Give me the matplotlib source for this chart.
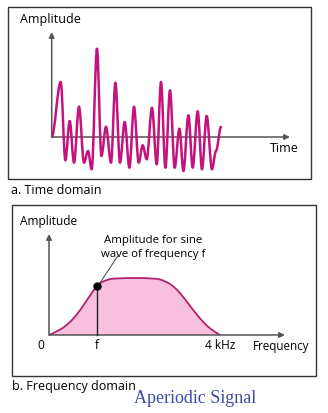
import matplotlib.pyplot as plt
from matplotlib.path import Path
from matplotlib.patches import PathPatch, Rectangle

# Time domain: extremes of the aperiodic waveform (time, amplitude)
time_pts = [0, 9, 13.7, 18, 22.3, 27.3, 32.3, 36.3, 40, 45.3, 49.7, 54.3, 59.3,
            63.7, 68.3, 73, 77.7, 82.3, 87, 91, 95, 100.3, 105, 109.3, 113.7,
            118.3, 123, 127.7, 131.7, 136.7, 141, 146, 150.3, 155, 160.3, 164.3,
            169.3]
amp_pts = [0, 55, -23.3, 16, -25.7, 30.3, -25.7, -14, -32.3, 88.3, -19, 10.3,
           -25.7, 54.3, -25.7, 15, -30.7, 30.3, -25.7, -8.3, -22.3, 29.3, -27.3,
           55, -30.7, 46.7, -30.7, 8.3, -34, 21.7, -30.7, 25.7, -32.3, 21, -32.3,
           -14, 10]

# Frequency domain: spectrum (kHz, relative amplitude)
freq_khz = [0, 0.22, 0.45, 0.69, 0.92, 1.13, 1.31, 1.54, 2.48, 2.71, 2.95,
            3.18, 3.42, 3.65, 3.84, 4.0]
spec_amp = [0, 0.07, 0.19, 0.39, 0.65, 0.88, 0.96, 1.0, 1.0, 0.95, 0.84,
            0.63, 0.39, 0.19, 0.07, 0]
f_marker = 1.13

W, H = 328, 414
wave_color = "#C4137D"
spec_color = "#B0236E"
fill_color = "#F7C0DC"
axis_color = "#555555"
font = "Open Sans"
fs = 9

fig = plt.figure(figsize=(W / 100, H / 100), dpi=100)

# overlay in pixel coordinates for frames and captions
bg = fig.add_axes([0, 0, 1, 1])
bg.set_xlim(0, W)
bg.set_ylim(H, 0)
bg.axis("off")
bg.add_patch(Rectangle((8, 8), 303, 172, fill=False, ec="#333333", lw=1))
bg.add_patch(Rectangle((12, 206), 304, 171, fill=False, ec="#333333", lw=1))
bg.text(11, 191, "a. Time domain", family=font, fontsize=fs, va="center")
bg.text(12, 387, "b. Frequency domain", family=font, fontsize=fs, va="center")
bg.text(195, 399, "Aperiodic Signal", family="Liberation Serif", fontsize=13,
        color="#3A4BA8", ha="center", va="center")
bg.text(20, 20, "Amplitude", family=font, fontsize=fs, va="center")
bg.text(270, 149, "Time", family=font, fontsize=fs, va="center")
bg.text(20, 222, "Amplitude", family=font, fontsize=8.6, va="center")
bg.text(253, 347, "Frequency", family=font, fontsize=8.4, va="center")


def px_axes(x0, y0, x1, y1):
    return fig.add_axes([x0 / W, 1 - y1 / H, (x1 - x0) / W, (y1 - y0) / H])


def arrows(ax, xmax, ymax):
    kw = dict(arrowstyle="-|>", color=axis_color, lw=1.1, mutation_scale=8,
              shrinkA=0, shrinkB=0)
    ax.annotate("", xy=(xmax, 0), xytext=(0, 0), arrowprops=kw)
    ax.annotate("", xy=(0, ymax), xytext=(0, 0), arrowprops=kw)


# ---- time domain ----
ax1 = px_axes(51.7, 33, 290, 175)
ax1.set_xlim(0, 238.3)
ax1.set_ylim(-37, 105)
ax1.axis("off")
arrows(ax1, 238.3, 105)

verts = [(time_pts[0], amp_pts[0])]
codes = [Path.MOVETO]
for i in range(1, len(time_pts)):
    t0, a0 = time_pts[i - 1], amp_pts[i - 1]
    t1, a1 = time_pts[i], amp_pts[i]
    dt = t1 - t0
    verts += [(t0 + 0.34 * dt, a0), (t1 - 0.34 * dt, a1), (t1, a1)]
    codes += [Path.CURVE4] * 3
ax1.add_patch(PathPatch(Path(verts, codes), fill=False, ec=wave_color, lw=1.8,
                        joinstyle="round", capstyle="round", zorder=3))

# ---- frequency domain ----
unit = 57.0
ax2 = px_axes(49, 235, 285, 346)
ax2.set_xlim(0, (285 - 49) / 42.75)
ax2.set_ylim(-10 / unit, 101 / unit)
ax2.axis("off")

pts = list(zip(freq_khz, spec_amp))
sverts = [pts[0]]
scodes = [Path.MOVETO]
for i in range(1, len(pts) - 1):
    mid = ((pts[i][0] + pts[i + 1][0]) / 2, (pts[i][1] + pts[i + 1][1]) / 2)
    end = mid if i < len(pts) - 2 else pts[-1]
    sverts += [pts[i], end]
    scodes += [Path.CURVE3, Path.CURVE3]
spec_path = Path(sverts, scodes)
fill_path = Path(sverts + [pts[0], pts[0]],
                 scodes + [Path.LINETO, Path.CLOSEPOLY])
ax2.add_patch(PathPatch(fill_path, fc=fill_color, ec="none", zorder=1))
ax2.add_patch(PathPatch(spec_path, fill=False, ec=spec_color, lw=1.3,
                        zorder=3))
arrows(ax2, (285 - 49) / 42.75, 101 / unit)

f_amp = spec_amp[freq_khz.index(f_marker)] - 0.02
ax2.plot([f_marker, f_marker], [0, f_amp], color="#222222", lw=1, zorder=4)
ax2.plot(f_marker, f_amp, "o", color="black", ms=5, zorder=5)
ax2.plot([f_marker + 0.05, 1.62], [f_amp + 0.04, 1.4],
         color="#444444", lw=0.7, zorder=4)
ax2.text(2.43, 1.55, "Amplitude for sine\nwave of frequency f", family=font,
         fontsize=8.2, ha="center", va="center", linespacing=1.3)
ax2.text(-0.2, -0.17, "0", family=font, fontsize=8.6, ha="center", va="center")
ax2.text(f_marker, -0.17, "f", family=font, fontsize=8.6, ha="center",
         va="center")
ax2.text(4.0, -0.17, "4 kHz", family=font, fontsize=8.6, ha="center",
         va="center")

fig.savefig("out.png", dpi=100)
